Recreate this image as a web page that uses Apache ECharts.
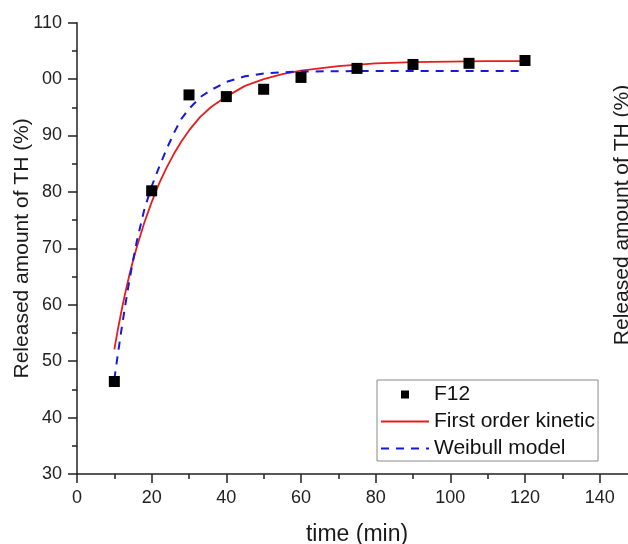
<!DOCTYPE html>
<html>
<head>
<meta charset="utf-8">
<script src="https://cdn.jsdelivr.net/npm/echarts@6/dist/echarts.min.js"></script>
<style>
html,body{margin:0;padding:0;background:#fff;}
#chart{width:628px;height:544px;}
</style>
</head>
<body>
<div id="chart"></div>
<script>
// Measured data (F12)
const timeMin = [10, 20, 30, 40, 50, 60, 75, 90, 105, 120];
const f12Release = [46.4, 80.2, 97.2, 96.9, 98.2, 100.3, 101.9, 102.6, 102.8, 103.3];

// First order kinetic fit
const firstOrderTime = [10, 11, 12, 13, 14, 15, 16, 18, 20, 22, 24, 26, 28, 30, 33, 36, 40, 45, 50, 55, 60, 70, 80, 90, 100, 110, 120];
const firstOrderValues = [52.1, 55.8, 59.2, 62.3, 65.2, 67.8, 70.2, 74.5, 78.2, 81.5, 84.3, 86.8, 89.0, 90.9, 93.3, 95.1, 96.9, 98.8, 100.0, 100.9, 101.5, 102.3, 102.8, 103.0, 103.1, 103.2, 103.2];

// Weibull model fit
const weibullTime = [10, 11, 12, 13, 14, 15, 16, 18, 20, 22, 24, 26, 28, 30, 33, 36, 40, 45, 50, 55, 60, 70, 80, 90, 120];
const weibullValues = [46.8, 51.5, 56.0, 60.2, 64.2, 67.8, 71.2, 76.8, 81.0, 84.4, 87.6, 90.5, 93.0, 94.7, 96.8, 98.1, 99.5, 100.5, 101.0, 101.2, 101.35, 101.4, 101.45, 101.45, 101.45];

// Axis ticks
const xTicks = [0, 20, 40, 60, 80, 100, 120, 140];
const yTicks = [30, 40, 50, 60, 70, 80, 90, 100, 110];
const yTickText = ['30', '40', '50', '60', '70', '80', '90', '00', '110'];

const seriesNames = ['F12', 'First order kinetic', 'Weibull model'];
const xTitle = 'time (min)';
const yTitle = 'Released amount of TH (%)';

const FONT = '"Liberation Sans", Arial, sans-serif';
const chart = echarts.init(document.getElementById('chart'), null, {renderer: 'canvas'});

const zip = (xs, ys) => xs.map((x, i) => [x, ys[i]]);

chart.setOption({
  animation: false,
  backgroundColor: '#ffffff',
  grid: {left: 77, right: -9, top: 22.7, bottom: 70, containLabel: false, outerBoundsMode: 'none'},
  xAxis: {
    type: 'value',
    min: 0, max: 150, interval: 20,
    name: xTitle,
    nameLocation: 'middle',
    nameGap: 49,
    nameMoveOverlap: false,
    nameTextStyle: {fontFamily: FONT, fontSize: 23, color: '#1a1a1a'},
    axisLine: {show: true, onZero: false, lineStyle: {color: '#222', width: 1.5}},
    axisTick: {show: true, inside: false, length: 9, lineStyle: {color: '#222', width: 1.5}},
    minorTick: {show: true, splitNumber: 2, length: 5, lineStyle: {color: '#222', width: 1.5}},
    splitLine: {show: false},
    axisLabel: {
      margin: 15, fontFamily: FONT, fontSize: 18, color: '#222',
      formatter: v => xTicks.includes(v) ? String(v) : ''
    }
  },
  yAxis: {
    type: 'value',
    min: 30, max: 110, interval: 10,
    name: yTitle,
    nameLocation: 'middle',
    nameGap: 44,
    nameMoveOverlap: false,
    nameTextStyle: {fontFamily: FONT, fontSize: 21, color: '#1a1a1a'},
    axisLine: {show: true, onZero: false, lineStyle: {color: '#222', width: 1.5}},
    axisTick: {show: true, inside: false, length: 9, lineStyle: {color: '#222', width: 1.5}},
    minorTick: {show: true, splitNumber: 2, length: 5, lineStyle: {color: '#222', width: 1.5}},
    splitLine: {show: false},
    axisLabel: {
      margin: 15, fontFamily: FONT, fontSize: 18, color: '#222',
      formatter: v => { const i = yTicks.indexOf(v); return i >= 0 ? yTickText[i] : ''; }
    }
  },
  legend: {
    orient: 'vertical',
    left: 377, top: 380,
    width: 221,
    padding: [4, 3, 2, 3],
    itemWidth: 48, itemHeight: 8, itemGap: 6,
    symbolKeepAspect: true,
    borderColor: '#8a8a8a', borderWidth: 1,
    backgroundColor: '#fff',
    textStyle: {fontFamily: FONT, fontSize: 21, color: '#111'},
    data: [
      {name: seriesNames[0], icon: 'path://M0,0 L10,0 L10,10 L0,10 Z', itemStyle: {color: '#000', opacity: 1}},
      {name: seriesNames[1], itemStyle: {opacity: 0}},
      {name: seriesNames[2], itemStyle: {opacity: 0}}
    ]
  },
  series: [
    {
      name: seriesNames[1],
      type: 'line',
      data: zip(firstOrderTime, firstOrderValues),
      smooth: false,
      showSymbol: false, symbol: 'none',
      lineStyle: {color: '#e41e1e', width: 1.8},
      itemStyle: {color: '#e41e1e'},
      z: 2
    },
    {
      name: seriesNames[2],
      type: 'line',
      data: zip(weibullTime, weibullValues),
      smooth: false,
      showSymbol: false, symbol: 'none',
      lineStyle: {color: '#1818dc', width: 2, type: [8, 7]},
      itemStyle: {color: '#1818dc'},
      z: 3
    },
    {
      name: seriesNames[0],
      type: 'scatter',
      data: zip(timeMin, f12Release),
      symbol: 'rect', symbolSize: 11,
      itemStyle: {color: '#000', opacity: 1},
      z: 4
    }
  ],
  graphic: [
    {
      type: 'text',
      x: 622, y: 215,
      rotation: Math.PI / 2,
      style: {
        text: yTitle,
        font: '21px ' + FONT,
        fill: '#1a1a1a',
        align: 'center',
        verticalAlign: 'middle'
      }
    }
  ]
});
</script>
</body>
</html>
